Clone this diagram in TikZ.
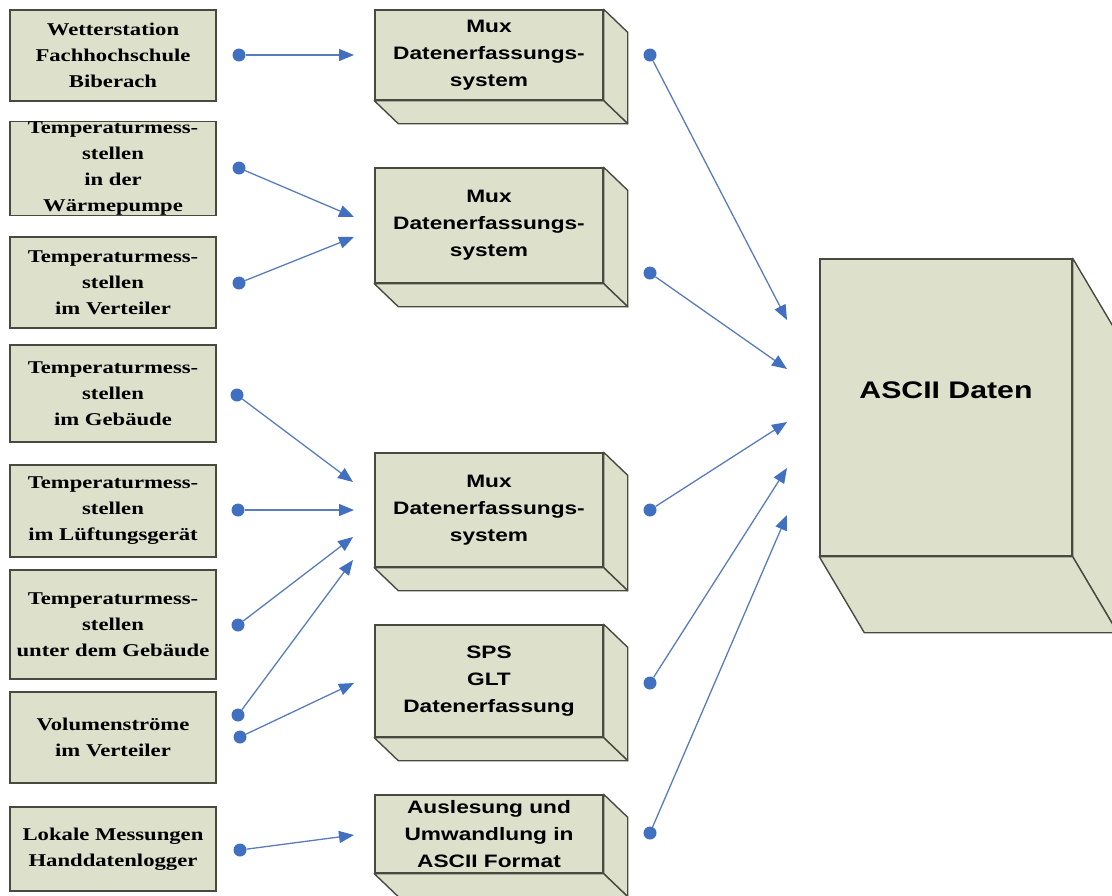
\documentclass[tikz,border=0pt]{standalone}
\usepackage{fontspec}
\setmainfont{Liberation Serif}[FakeStretch=1.26]
\setsansfont{Liberation Sans}[FakeStretch=1.26]
\usepackage{xcolor}
\usetikzlibrary{arrows.meta}
\definecolor{boxfill}{RGB}{221,225,204}
\definecolor{boxline}{RGB}{72,74,64}
\definecolor{linkblue}{RGB}{66,112,192}
\definecolor{linkline}{RGB}{88,124,190}

\begin{document}
\begin{tikzpicture}[x=1pt,y=-1pt,
        srcbox/.style={draw=boxline, fill=boxfill, line width=1.4pt, minimum width=206pt,
                inner sep=0pt, align=center, font=\rmfamily\bfseries\fontsize{18}{26}\selectfont},
        muxbox/.style={draw=boxline, fill=boxfill, line width=1.4pt, minimum width=228pt,
                inner sep=0pt, align=center, font=\sffamily\bfseries\fontsize{18}{27}\selectfont},
        face/.style={draw=boxline, fill=boxfill, line width=1.4pt, line join=round},
        dot/.style={circle, fill=linkblue, inner sep=0pt, minimum size=13pt},
        link/.style={draw=linkline, line width=1.3pt,
                -{Triangle[length=15pt,width=12pt,color=linkblue]}}]
        \clip (0,0) rectangle (1112,895);

        %% Sources
        \node[srcbox, minimum height=91pt] (s1) at (113,55.5) {Wetterstation\\Fachhochschule\\Biberach};
        \node[srcbox, minimum height=91pt] (s2) at (113,168.5) {Temperaturmess-\\stellen\\in der\\Wärmepumpe};
        \node[srcbox, minimum height=91pt] (s3) at (113,282.5) {Temperaturmess-\\stellen\\im Verteiler};
        \node[srcbox, minimum height=97pt] (s4) at (113,393.5) {Temperaturmess-\\stellen\\im Gebäude};
        \node[srcbox, minimum height=92pt] (s5) at (113,511) {Temperaturmess-\\stellen\\im Lüftungsgerät};
        \node[srcbox, minimum height=109pt] (s6) at (113,624.5) {Temperaturmess-\\stellen\\unter dem Gebäude};
        \node[srcbox, minimum height=91pt] (s7) at (113,737.5) {Volumenströme\\im Verteiler};
        \node[srcbox, minimum height=84pt] (s8) at (113,849) {Lokale Messungen\\Handdatenlogger};

        %% Acquisition systems
        \node[muxbox, minimum height=90pt] (m1) at (489,55) {Mux\\Datenerfassungs-\\system};
        \node[muxbox, minimum height=115pt] (m2) at (489,225.5) {Mux\\Datenerfassungs-\\system};
        \node[muxbox, minimum height=114pt] (m3) at (489,510) {Mux\\Datenerfassungs-\\system};
        \node[muxbox, minimum height=112pt] (m4) at (489,681) {SPS\\GLT\\Datenerfassung};
        \node[muxbox, minimum height=78pt] (m5) at (489,834) {Auslesung und\\Umwandlung in\\ASCII Format};
        \foreach \m in {m1,m2,m3,m4,m5} {
                \draw[face] (\m.north east) -- ([shift={(24,23)}]\m.north east)
                        -- ([shift={(24,23)}]\m.south east) -- (\m.south east) -- cycle;
                \draw[face] (\m.south west) -- ([shift={(24,23)}]\m.south west)
                        -- ([shift={(24,23)}]\m.south east) -- (\m.south east) -- cycle;
                }

        %% Result
        \node[draw=boxline, fill=boxfill, line width=1.4pt, minimum width=252pt,
                minimum height=297pt] (ascii) at (946,407.5) {};
        \draw[face] (ascii.north east) -- ([shift={(45,76)}]ascii.north east)
                -- ([shift={(45,76)}]ascii.south east) -- (ascii.south east) -- cycle;
        \draw[face] (ascii.south west) -- ([shift={(45,76)}]ascii.south west)
                -- ([shift={(45,76)}]ascii.south east) -- (ascii.south east) -- cycle;
        \node[font=\sffamily\bfseries\fontsize{24}{28}\selectfont] (asciitext)
                at ([yshift=17pt]ascii.center) {ASCII Daten};

        % Dots
        \node[dot] (d1) at (239,55) {};
        \node[dot] (d2) at (239,168) {};
        \node[dot] (d3) at (239,283) {};
        \node[dot] (d4) at (237,395) {};
        \node[dot] (d5) at (238,510) {};
        \node[dot] (d6) at (238,625) {};
        \node[dot] (d7) at (238,715) {};
        \node[dot] (d8) at (240,737) {};
        \node[dot] (d9) at (240,850) {};
        \node[dot] (e1) at (650,55) {};
        \node[dot] (e2) at (650,273) {};
        \node[dot] (e3) at (650,510) {};
        \node[dot] (e4) at (650,683) {};
        \node[dot] (e5) at (650,833) {};

        % Arrow tips
        \coordinate (t1) at (354,55);
        \coordinate (t2) at (354,217);
        \coordinate (t3) at (354,237);
        \coordinate (t4) at (353,482);
        \coordinate (t5) at (354,510);
        \coordinate (t6) at (353,537);
        \coordinate (t7) at (353,560);
        \coordinate (t8) at (354,683);
        \coordinate (t9) at (354,835);
        \coordinate (u1) at (787,320);
        \coordinate (u2) at (787,369);
        \coordinate (u3) at (787,422);
        \coordinate (u4) at (787,468);
        \coordinate (u5) at (787,515);

        % Arrows
        \foreach \i in {1,...,9} {
                \draw[link] (d\i) -- (t\i);
                }
        \foreach \i in {1,...,5} {
                \draw[link] (e\i) -- (u\i);
                }
\end{tikzpicture}
\end{document}
